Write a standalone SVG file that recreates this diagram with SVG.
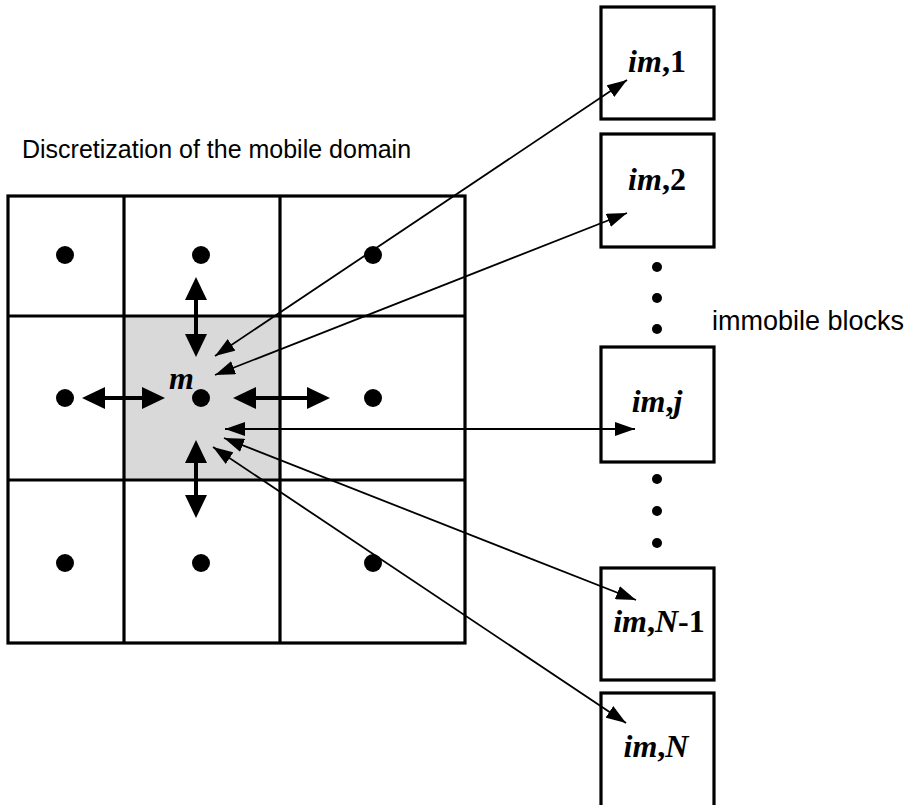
<svg xmlns="http://www.w3.org/2000/svg" width="914" height="805" viewBox="0 0 914 805">
<style>
.grid{fill:none;stroke:#000;stroke-width:3.2}
.box{fill:#fff;stroke:#000;stroke-width:3.2}
.dot{fill:#000}
.thick{stroke:#000;stroke-width:4;fill:none}
.thin{stroke:#000;stroke-width:1.8;fill:none}
.lbl{font-family:"Liberation Serif","Times New Roman",serif;font-weight:bold;font-size:32px;fill:#000}
.it{font-style:italic}
.cap{font-family:"Liberation Sans",Arial,sans-serif;fill:#000}
</style>
<defs>
<marker id="hThick" markerUnits="userSpaceOnUse" markerWidth="23" markerHeight="22" refX="10" refY="11" orient="auto-start-reverse" viewBox="0 0 23 22">
<path d="M0,0 L23,11 L0,22 z" fill="#000"/>
</marker>
<marker id="hThin" markerUnits="userSpaceOnUse" markerWidth="20" markerHeight="14" refX="20" refY="7" orient="auto-start-reverse" viewBox="0 0 20 14">
<path d="M0,0 L20,7 L0,14 z" fill="#000"/>
</marker>
</defs>
<rect width="914" height="805" fill="#fff"/>

<text class="cap" x="22" y="158" font-size="25">Discretization of the mobile domain</text>

<g id="mobile-grid">
<rect x="124" y="316" width="156" height="164" fill="#d9d9d9"/>
<rect class="grid" x="8" y="196" width="457" height="447"/>
<line class="grid" x1="124" y1="196" x2="124" y2="643"/>
<line class="grid" x1="280" y1="196" x2="280" y2="643"/>
<line class="grid" x1="8" y1="316" x2="465" y2="316"/>
<line class="grid" x1="8" y1="480" x2="465" y2="480"/>
<circle class="dot" cx="65" cy="255" r="9"/>
<circle class="dot" cx="201" cy="255" r="9"/>
<circle class="dot" cx="373" cy="255" r="9"/>
<circle class="dot" cx="65" cy="398" r="9"/>
<circle class="dot" cx="201" cy="398" r="9"/>
<circle class="dot" cx="373" cy="398" r="9"/>
<circle class="dot" cx="65" cy="563" r="9"/>
<circle class="dot" cx="201" cy="563" r="9"/>
<circle class="dot" cx="373" cy="563" r="9"/>
<text class="lbl it" x="169" y="389" font-size="30">m</text>
</g>

<g id="im1"><rect class="box" x="601" y="7" width="113" height="112"/><text class="lbl" x="657" y="72" text-anchor="middle"><tspan class="it">im</tspan>,1</text></g>
<g id="im2"><rect class="box" x="601" y="134" width="113" height="113"/><text class="lbl" x="657" y="190" text-anchor="middle"><tspan class="it">im</tspan>,2</text></g>
<g id="dots-upper">
<circle class="dot" cx="657" cy="267" r="5"/>
<circle class="dot" cx="657" cy="298" r="5"/>
<circle class="dot" cx="657" cy="329" r="5"/>
</g>
<text class="cap" x="712" y="330" font-size="27">immobile blocks</text>
<g id="imj"><rect class="box" x="601" y="347" width="113" height="115"/><text class="lbl" x="657" y="412" text-anchor="middle"><tspan class="it">im</tspan>,<tspan class="it">j</tspan></text></g>
<g id="dots-lower">
<circle class="dot" cx="657" cy="479" r="5"/>
<circle class="dot" cx="657" cy="511" r="5"/>
<circle class="dot" cx="657" cy="543" r="5"/>
</g>
<g id="imN-1"><rect class="box" x="601" y="568" width="113" height="112"/><text class="lbl" x="659" y="632" text-anchor="middle"><tspan class="it">im</tspan>,<tspan class="it">N</tspan>-1</text></g>
<g id="imN"><rect class="box" x="601" y="693" width="113" height="120"/><text class="lbl" x="656" y="757" text-anchor="middle"><tspan class="it">im</tspan>,<tspan class="it">N</tspan></text></g>

<g id="connectors">
<line class="thick" x1="196" y1="290" x2="196" y2="344" marker-start="url(#hThick)" marker-end="url(#hThick)"/>
<line class="thick" x1="196" y1="453" x2="196" y2="505" marker-start="url(#hThick)" marker-end="url(#hThick)"/>
<line class="thick" x1="95" y1="398" x2="152" y2="398" marker-start="url(#hThick)" marker-end="url(#hThick)"/>
<line class="thick" x1="246" y1="398" x2="317" y2="398" marker-start="url(#hThick)" marker-end="url(#hThick)"/>
<line class="thin" x1="215" y1="356" x2="627" y2="80" marker-start="url(#hThin)" marker-end="url(#hThin)"/>
<line class="thin" x1="215" y1="375" x2="627" y2="213" marker-start="url(#hThin)" marker-end="url(#hThin)"/>
<line class="thin" x1="225" y1="429" x2="635" y2="429" marker-start="url(#hThin)" marker-end="url(#hThin)"/>
<line class="thin" x1="224" y1="438" x2="636" y2="600" marker-start="url(#hThin)" marker-end="url(#hThin)"/>
<line class="thin" x1="213" y1="447" x2="626" y2="723" marker-start="url(#hThin)" marker-end="url(#hThin)"/>
</g>
</svg>
